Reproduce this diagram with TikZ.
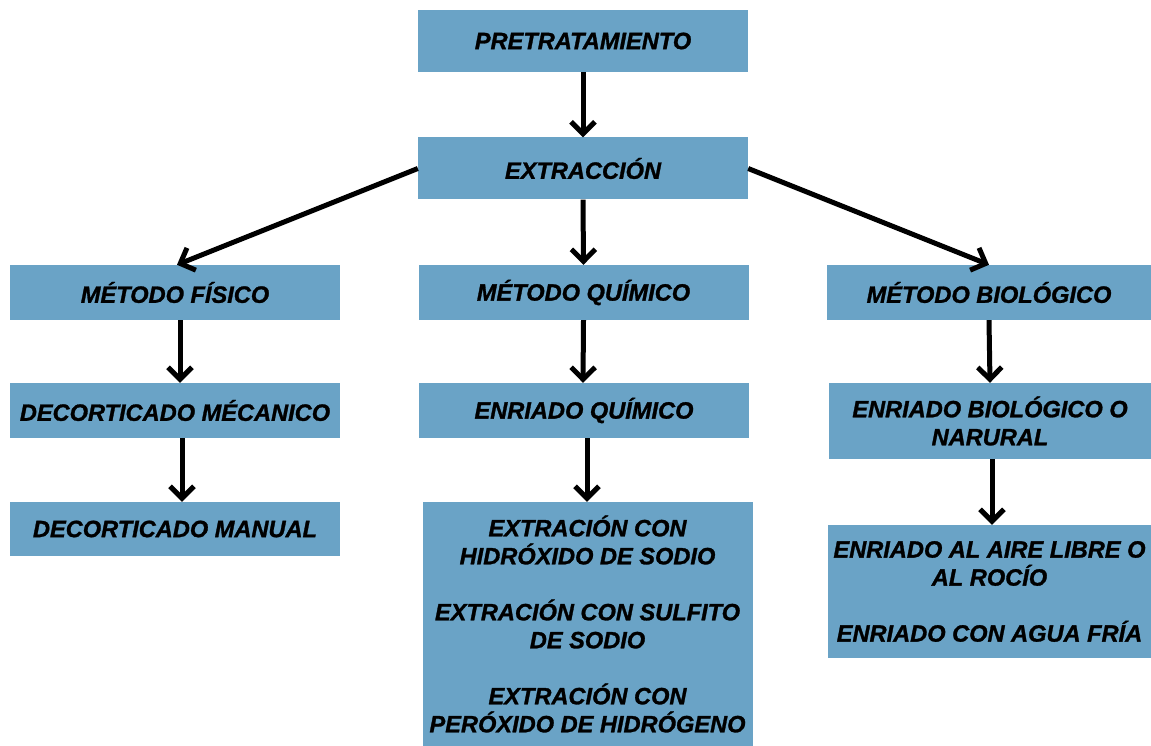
\documentclass[tikz,border=0pt]{standalone}
\usepackage{fontspec}
\setmainfont{Liberation Sans}[BoldItalicFeatures={FakeBold=1.2}]
\usetikzlibrary{arrows.meta}
\definecolor{boxblue}{HTML}{6AA3C6}
\tikzset{
  box/.style={fill=boxblue, inner sep=0pt, minimum width=330pt, align=center,
    font=\fontsize{23.6}{28}\selectfont\bfseries\itshape},
  arr/.style={line width=5pt, -{Straight Barb[length=12pt,width=24pt,line width=5pt]}}
}
\begin{document}
\begin{tikzpicture}[x=1pt,y=-1pt]
\useasboundingbox (0,0) rectangle (1151,746);
\node[box, minimum height=62pt] (pre) at (583,41) {PRETRATAMIENTO};
\node[box, minimum height=62pt] (ext) at (583,168.5) {EXTRACCIÓN};
\node[box, minimum height=55pt] (fis) at (175,292.5) {MÉTODO FÍSICO};
\node[box, minimum height=55pt] (qui) at (583.5,292.5) {MÉTODO QUÍMICO};
\node[box, minimum height=55pt, minimum width=324pt] (bio) at (989,292.5) {MÉTODO BIOLÓGICO};
\node[box, minimum height=55pt] (decmec) at (175,410.5) {DECORTICADO MÉCANICO};
\node[box, minimum height=55pt] (enrq) at (584,410.5) {ENRIADO QUÍMICO};
\node[box, minimum height=54pt] (decman) at (175,529) {DECORTICADO MANUAL};
\node[box, minimum height=76pt, minimum width=322pt] (enrb) at (990,421) {ENRIADO BIOLÓGICO O\\NARURAL};
\node[box, minimum height=244pt] (extr) at (587.5,624) {EXTRACIÓN CON\\HIDRÓXIDO DE SODIO\\[28pt]EXTRACIÓN CON SULFITO\\DE SODIO\\[28pt]EXTRACIÓN CON\\PERÓXIDO DE HIDRÓGENO};
\node[box, minimum height=133pt, minimum width=323pt] (enral) at (989.5,591.5) {ENRIADO AL AIRE LIBRE O\\AL ROCÍO\\[28pt]ENRIADO CON AGUA FRÍA};
\draw[arr] (pre.south) -- (ext.north);
\draw[arr] (ext.west) -- ([xshift=2pt]fis.north);
\draw[arr] (ext.south) -- (qui.north);
\draw[arr] (ext.east) -- (bio.north);
\draw[arr] ([xshift=5pt]fis.south) -- ([xshift=5pt]decmec.north);
\draw[arr] ([xshift=7pt]decmec.south) -- ([xshift=7pt]decman.north);
\draw[arr] (qui.south) -- ([xshift=-1pt]enrq.north);
\draw[arr] ([xshift=3pt]enrq.south) -- ([xshift=3pt]enrq.south |- extr.north);
\draw[arr] (bio.south) -- (enrb.north);
\draw[arr] ([xshift=2pt]enrb.south) -- ([xshift=2pt]enrb.south |- enral.north);
\end{tikzpicture}
\end{document}
